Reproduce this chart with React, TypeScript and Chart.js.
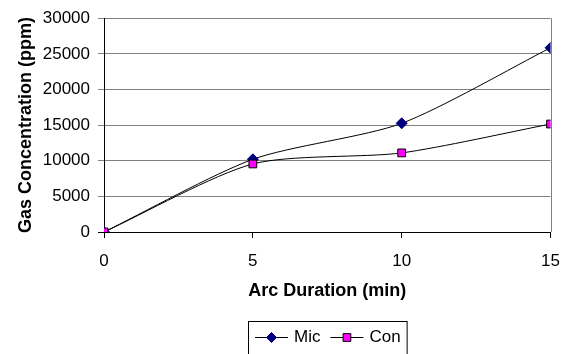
import React, { useEffect, useRef } from 'react';
import { Chart, registerables } from 'chart.js';

Chart.register(...registerables);

// ---- data ----
const durations = [0, 5, 10, 15];
const micValues = [0, 10200, 15250, 25850];
const conValues = [0, 9550, 11100, 15150];
const seriesNames = ['Mic', 'Con'];
const xTitle = 'Arc Duration (min)';
const yTitle = 'Gas Concentration (ppm)';

const FONT = '"Liberation Sans", Arial, sans-serif';
const W = 573;
const H = 354;

function drawMarker(ctx: CanvasRenderingContext2D, style: string, x: number, y: number, r: number, fill: string, stroke: string) {
  ctx.save();
  ctx.fillStyle = fill;
  ctx.strokeStyle = stroke;
  ctx.lineWidth = 1;
  ctx.beginPath();
  if (style === 'rectRot') {
    ctx.moveTo(x - r, y);
    ctx.lineTo(x, y - r);
    ctx.lineTo(x + r, y);
    ctx.lineTo(x, y + r);
    ctx.closePath();
  } else {
    const s = r * Math.SQRT1_2;
    ctx.rect(x - s, y - s, 2 * s, 2 * s);
  }
  ctx.fill();
  ctx.stroke();
  ctx.restore();
}

const frameAndLegend = {
  id: 'frameAndLegend',
  beforeDatasetsDraw(chart: any) {
    const { ctx, chartArea: a } = chart;
    ctx.save();
    ctx.strokeStyle = '#808080';
    ctx.lineWidth = 1;
    ctx.beginPath();
    const xr = Math.round(a.right) + 0.5;
    ctx.moveTo(xr, a.top);
    ctx.lineTo(xr, a.bottom);
    ctx.stroke();
    ctx.restore();
  },
  afterDraw(chart: any) {
    const { ctx, chartArea: a } = chart;
    ctx.save();
    ctx.font = `17px ${FONT}`;
    const items = chart.data.datasets.map((ds: any) => ({ ds, w: ctx.measureText(ds.label).width }));
    const lineLen = 33, gapText = 6, gapItem = 10, padL = 7, padR = 6;
    let total = padL + padR;
    items.forEach((it: any, i: number) => {
      total += lineLen + gapText + it.w + (i < items.length - 1 ? gapItem : 0);
    });
    const left = Math.round((a.left + a.right) / 2 - total / 2);
    const top = Math.round(a.bottom + 89);
    ctx.strokeStyle = '#000';
    ctx.lineWidth = 1;
    ctx.strokeRect(left + 0.5, top + 0.5, total, chart.height - top + 10);
    const cy = top + 16;
    let x = left + padL;
    items.forEach((it: any) => {
      ctx.strokeStyle = '#000';
      ctx.beginPath();
      ctx.moveTo(x, cy + 0.5);
      ctx.lineTo(x + lineLen, cy + 0.5);
      ctx.stroke();
      drawMarker(ctx, it.ds.pointStyle, x + lineLen / 2, cy + 0.5, it.ds.pointStyle === 'rectRot' ? 5 : 5.5, it.ds.pointBackgroundColor, it.ds.pointBorderColor);
      ctx.fillStyle = '#000';
      ctx.textBaseline = 'middle';
      ctx.textAlign = 'left';
      ctx.fillText(it.ds.label, x + lineLen + gapText, cy);
      x += lineLen + gapText + it.w + gapItem;
    });
    ctx.restore();
  },
};

export default function App() {
  const ref = useRef<HTMLCanvasElement | null>(null);

  useEffect(() => {
    if (!ref.current) return;
    const chart = new Chart(ref.current, {
      type: 'line',
      data: {
        datasets: [
          {
            label: seriesNames[0],
            data: durations.map((d, i) => ({ x: d, y: micValues[i] })),
            borderColor: '#000000',
            borderWidth: 1,
            tension: 0.25,
            order: 1,
            pointStyle: 'rectRot',
            pointRadius: 5.5,
            pointBackgroundColor: '#000080',
            pointBorderColor: '#000080',
            pointBorderWidth: 1,
          },
          {
            label: seriesNames[1],
            data: durations.map((d, i) => ({ x: d, y: conValues[i] })),
            borderColor: '#000000',
            borderWidth: 1,
            tension: 0.25,
            order: 0,
            pointStyle: 'rect',
            pointRadius: 5.5,
            pointBackgroundColor: '#FF00FF',
            pointBorderColor: '#000000',
            pointBorderWidth: 1,
          },
        ],
      },
      options: {
        responsive: false,
        animation: false,
        layout: { padding: { top: 15, right: 20, left: 0, bottom: 0 } },
        plugins: {
          legend: { display: false },
          tooltip: { enabled: false },
        },
        scales: {
          x: {
            type: 'linear',
            min: 0,
            max: 15,
            ticks: {
              stepSize: 5,
              padding: 13,
              color: '#000',
              font: { family: FONT, size: 17 },
            },
            grid: {
              drawOnChartArea: false,
              drawTicks: true,
              tickLength: 6,
              color: '#000',
            },
            border: { color: '#000', width: 1 },
            title: {
              display: true,
              text: xTitle,
              color: '#000',
              font: { family: FONT, size: 18, weight: 'bold' },
              padding: { top: 0, bottom: 52 },
            },
            afterFit(scale: any) {
              scale.height = 122;
            },
          },
          y: {
            min: 0,
            max: 30000,
            ticks: {
              stepSize: 5000,
              padding: 8,
              color: '#000',
              font: { family: FONT, size: 17 },
              callback: (v: any) => String(v),
            },
            grid: {
              tickLength: 6,
              color: (c: any) => (c.tick && c.tick.value === 0 ? '#000' : '#808080'),
            },
            border: { color: '#000', width: 1 },
            title: {
              display: true,
              text: yTitle,
              color: '#000',
              font: { family: FONT, size: 18, weight: 'bold' },
              padding: { top: 15, bottom: 0 },
            },
            afterFit(scale: any) {
              scale.width = 104;
            },
          },
        },
      },
      plugins: [frameAndLegend],
    });
    return () => chart.destroy();
  }, []);

  return (
    <div style={{ position: 'absolute', left: 0, top: 0, width: W, height: H, overflow: 'hidden', background: '#fff' }}>
      <canvas ref={ref} width={W} height={H} style={{ width: W, height: H, display: 'block' }} />
    </div>
  );
}
